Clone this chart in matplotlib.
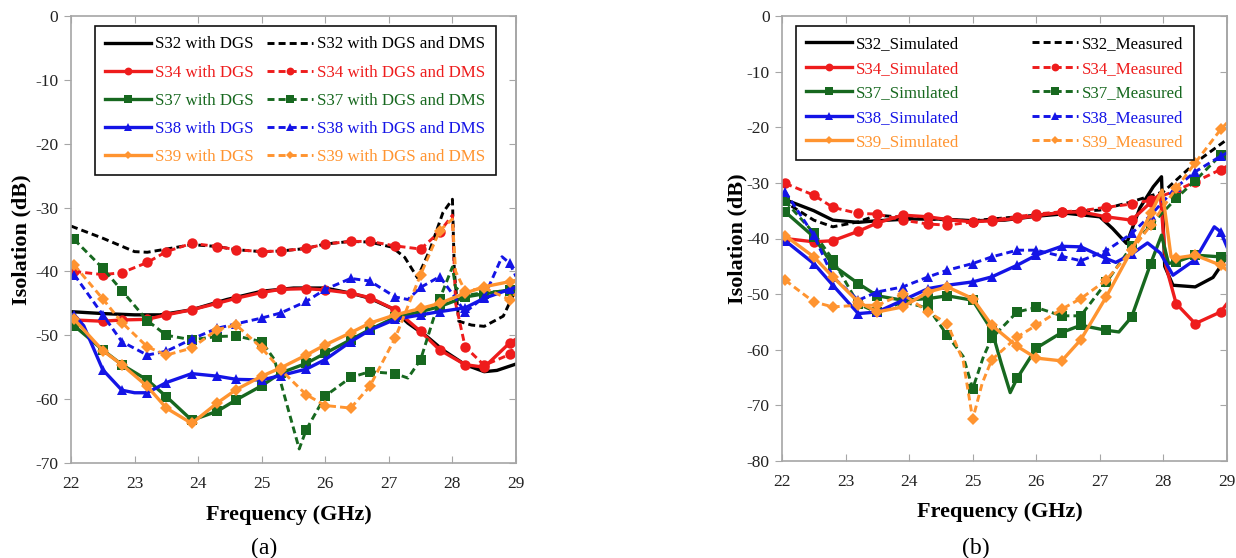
import matplotlib
matplotlib.use("Agg")
import matplotlib.pyplot as plt
from matplotlib.lines import Line2D

plt.rcParams['font.family'] = ['Liberation Serif', 'DejaVu Serif']
plt.rcParams['axes.unicode_minus'] = False

# ---------------- data ----------------
MARK_X = [22.05, 22.5, 22.8, 23.2, 23.5, 23.9, 24.3, 24.6, 25.0, 25.3, 25.7,
          26.0, 26.4, 26.7, 27.1, 27.5, 27.8, 28.2, 28.5, 28.9]

# panel (a)
a_s32_dgs_x = [22.0, 22.5, 23.0, 23.4, 23.9, 24.45, 25.0, 25.5, 26.0, 26.4, 26.7, 27.05, 27.3, 27.6, 27.85, 28.2, 28.5, 28.7, 29.0]
a_s32_dgs_y = [-46.3, -46.6, -46.8, -46.8, -46.0, -44.4, -43.1, -42.6, -42.6, -43.4, -44.2, -45.8, -48.1, -50.2, -52.3, -54.6, -55.7, -55.5, -54.5]

a_s32_dms_x = [22.0, 22.5, 23.0, 23.2, 23.5, 23.9, 24.3, 24.6, 25.0, 25.3, 25.7, 26.0, 26.4, 26.7, 27.05, 27.25, 27.45, 27.65, 27.85, 28.0, 28.03, 28.1, 28.3, 28.5, 28.8, 29.0]
a_s32_dms_y = [-32.9, -34.8, -36.9, -37.0, -36.5, -35.8, -36.1, -36.6, -36.9, -36.8, -36.4, -35.7, -35.3, -35.4, -36.2, -37.8, -41.0, -36.5, -30.8, -28.7, -40.0, -47.8, -48.4, -48.6, -47.0, -42.8]

a_s34_dgs_x = [22.05, 22.5, 22.8, 23.2, 23.5, 23.9, 24.3, 24.6, 25.0, 25.3, 25.7, 26.0, 26.4, 26.7, 27.1, 27.5, 27.8, 28.2, 28.5, 28.9, 29.0]
a_s34_dgs_y = [-47.6, -47.8, -47.6, -47.5, -46.8, -46.0, -45.0, -44.2, -43.3, -42.8, -42.7, -42.9, -43.4, -44.1, -46.0, -49.4, -52.3, -54.6, -55.0, -51.2, -50.6]

a_s34_dms_x = [22.05, 22.5, 22.8, 23.2, 23.5, 23.9, 24.3, 24.6, 25.0, 25.3, 25.7, 26.0, 26.4, 26.7, 27.1, 27.5, 27.8, 28.0, 28.05, 28.2, 28.5, 28.9, 29.0]
a_s34_dms_y = [-40.0, -40.5, -40.2, -38.6, -36.9, -35.6, -36.1, -36.6, -36.9, -36.8, -36.4, -35.7, -35.3, -35.3, -36.0, -36.5, -33.8, -31.2, -45.0, -51.8, -54.7, -53.0, -51.0]

a_s37_dgs_x = [22.05, 22.5, 22.8, 23.2, 23.5, 23.9, 24.3, 24.6, 25.0, 25.3, 25.7, 26.0, 26.4, 26.7, 27.1, 27.5, 27.8, 28.2, 28.5, 28.9, 29.0]
a_s37_dgs_y = [-48.5, -52.3, -54.6, -57.0, -59.6, -63.3, -61.9, -60.1, -57.9, -55.9, -54.4, -52.8, -50.7, -49.1, -47.2, -46.3, -45.5, -44.0, -43.5, -42.9, -42.7]

a_s37_dms_x = [22.05, 22.5, 22.8, 23.2, 23.5, 23.9, 24.3, 24.6, 25.0, 25.2, 25.4, 25.59, 25.7, 26.0, 26.4, 26.7, 27.1, 27.3, 27.5, 27.8, 28.0, 28.05, 28.2, 28.5, 28.9, 29.0]
a_s37_dms_y = [-35.0, -39.5, -43.0, -47.7, -50.0, -50.7, -50.2, -50.1, -51.0, -53.8, -61.0, -67.8, -64.8, -59.5, -56.6, -55.7, -56.0, -56.7, -53.8, -44.3, -39.3, -42.5, -43.8, -43.3, -43.0, -42.8]

a_s38_dgs_x = [22.05, 22.2, 22.5, 22.8, 23.0, 23.2, 23.5, 23.9, 24.3, 24.6, 25.0, 25.3, 25.7, 26.0, 26.4, 26.7, 27.1, 27.5, 27.8, 28.2, 28.5, 28.9, 29.0]
a_s38_dgs_y = [-46.8, -48.5, -55.4, -58.6, -59.0, -59.0, -57.4, -56.0, -56.4, -56.9, -57.0, -56.3, -55.3, -53.8, -51.0, -49.2, -47.5, -46.8, -46.3, -45.7, -44.2, -42.8, -42.5]

a_s38_dms_x = [22.05, 22.5, 22.8, 23.2, 23.5, 23.9, 24.3, 24.6, 25.0, 25.3, 25.7, 26.0, 26.4, 26.7, 27.1, 27.3, 27.5, 27.8, 28.05, 28.2, 28.5, 28.78, 28.9, 29.0]
a_s38_dms_y = [-40.5, -46.8, -51.0, -53.1, -52.5, -50.6, -48.9, -48.2, -47.3, -46.5, -44.7, -42.8, -41.1, -41.5, -44.0, -44.4, -42.5, -40.8, -44.2, -46.4, -44.0, -37.7, -38.7, -40.8]

a_s39_dgs_x = [22.05, 22.5, 22.8, 23.2, 23.5, 23.9, 24.3, 24.6, 25.0, 25.3, 25.7, 26.0, 26.4, 26.7, 27.1, 27.5, 27.8, 28.2, 28.5, 28.9, 29.0]
a_s39_dgs_y = [-47.5, -52.4, -54.6, -58.0, -61.4, -63.8, -60.6, -58.5, -56.4, -55.1, -53.1, -51.5, -49.6, -48.1, -46.8, -45.8, -45.0, -43.4, -42.4, -41.6, -41.4]

a_s39_dms_x = [22.05, 22.5, 22.8, 23.2, 23.5, 23.9, 24.3, 24.6, 25.0, 25.3, 25.7, 26.0, 26.4, 26.7, 27.1, 27.5, 27.8, 28.0, 28.05, 28.2, 28.5, 28.9, 29.0]
a_s39_dms_y = [-39.0, -44.3, -48.0, -51.8, -53.1, -52.0, -49.1, -48.4, -52.0, -55.4, -59.3, -61.0, -61.4, -58.0, -50.4, -40.5, -33.6, -31.8, -40.0, -43.1, -42.6, -44.4, -43.5]

# panel (b)
b_s32_sim_x = [22.0, 22.5, 22.8, 23.2, 23.5, 24.0, 24.5, 25.0, 25.5, 26.0, 26.5, 27.0, 27.2, 27.42, 27.63, 27.84, 27.97, 28.02, 28.15, 28.5, 28.78, 29.0]
b_s32_sim_y = [-32.8, -35.0, -36.7, -37.1, -36.8, -36.5, -36.5, -36.8, -36.7, -36.0, -35.5, -36.1, -38.2, -40.9, -34.5, -30.7, -28.9, -45.0, -48.4, -48.7, -47.0, -43.3]

b_s32_meas_x = [22.0, 22.5, 22.8, 23.2, 23.5, 24.0, 24.5, 25.0, 25.5, 26.0, 26.5, 27.0, 27.5, 28.0, 28.5, 29.0]
b_s32_meas_y = [-33.1, -36.7, -37.9, -37.0, -35.8, -36.3, -36.6, -36.8, -36.3, -35.8, -35.2, -34.9, -33.4, -31.6, -26.4, -22.2]

b_s34_sim_x = [22.05, 22.5, 22.8, 23.2, 23.5, 23.9, 24.3, 24.6, 25.0, 25.3, 25.7, 26.0, 26.4, 26.7, 27.1, 27.5, 27.8, 27.95, 28.04, 28.2, 28.5, 28.9, 29.0]
b_s34_sim_y = [-40.0, -40.6, -40.4, -38.7, -37.2, -35.8, -36.1, -36.6, -37.0, -36.8, -36.4, -35.9, -35.3, -35.2, -36.1, -36.7, -33.5, -32.0, -45.0, -51.7, -55.3, -53.2, -51.7]

b_s34_meas_x = [22.05, 22.5, 22.8, 23.2, 23.5, 23.9, 24.3, 24.6, 25.0, 25.3, 25.7, 26.0, 26.4, 26.7, 27.1, 27.5, 27.8, 28.2, 28.5, 28.9, 29.0]
b_s34_meas_y = [-30.1, -32.2, -34.4, -35.5, -35.6, -36.7, -37.4, -37.6, -37.0, -36.7, -36.1, -35.6, -35.2, -35.0, -34.4, -33.8, -33.1, -31.4, -29.8, -27.6, -27.0]

b_s37_sim_x = [22.05, 22.5, 22.8, 23.2, 23.5, 23.9, 24.3, 24.6, 25.0, 25.3, 25.45, 25.59, 25.7, 26.0, 26.4, 26.7, 27.1, 27.3, 27.5, 27.8, 27.97, 28.08, 28.2, 28.5, 28.9, 29.0]
b_s37_sim_y = [-35.2, -39.7, -44.8, -48.1, -50.3, -51.1, -50.8, -50.3, -51.1, -56.5, -62.5, -67.7, -65.1, -59.7, -56.9, -55.6, -56.5, -56.8, -54.1, -44.5, -39.4, -44.5, -44.2, -43.0, -43.3, -43.5]

b_s37_meas_x = [22.05, 22.5, 22.8, 23.2, 23.5, 23.9, 24.3, 24.6, 24.85, 25.0, 25.17, 25.3, 25.7, 26.0, 26.4, 26.7, 27.1, 27.5, 27.8, 28.2, 28.5, 28.9, 29.0]
b_s37_meas_y = [-33.3, -39.0, -43.8, -51.8, -53.3, -51.4, -52.5, -57.4, -61.2, -67.0, -61.2, -57.9, -53.2, -52.4, -53.9, -53.9, -47.9, -41.4, -37.6, -32.8, -29.6, -25.0, -24.5]

b_s38_sim_x = [22.05, 22.5, 22.8, 23.2, 23.5, 23.9, 24.3, 24.6, 25.0, 25.3, 25.7, 26.0, 26.4, 26.7, 27.1, 27.25, 27.5, 27.75, 27.95, 28.15, 28.5, 28.8, 28.9, 29.0]
b_s38_sim_y = [-40.4, -44.5, -48.4, -53.5, -53.2, -51.1, -49.0, -48.4, -47.8, -46.9, -44.8, -43.0, -41.4, -41.5, -43.6, -44.3, -42.8, -40.8, -42.6, -46.6, -43.8, -37.9, -38.8, -41.5]

b_s38_meas_x = [22.05, 22.5, 22.8, 23.2, 23.5, 23.9, 24.3, 24.6, 25.0, 25.3, 25.7, 26.0, 26.4, 26.7, 27.1, 27.5, 27.8, 28.2, 28.5, 28.9, 29.0]
b_s38_meas_y = [-31.6, -39.4, -46.9, -51.1, -49.6, -48.7, -46.9, -45.7, -44.5, -43.3, -42.1, -42.1, -43.2, -44.0, -42.2, -39.1, -35.8, -30.8, -28.0, -25.2, -24.6]

b_s39_sim_x = [22.05, 22.5, 22.8, 23.2, 23.5, 23.9, 24.3, 24.6, 25.0, 25.3, 25.7, 26.0, 26.4, 26.7, 27.1, 27.5, 27.8, 27.98, 28.12, 28.2, 28.5, 28.9, 29.0]
b_s39_sim_y = [-39.5, -43.3, -46.9, -51.4, -53.2, -52.3, -49.6, -48.7, -50.8, -55.6, -59.4, -61.5, -62.0, -58.2, -50.5, -42.1, -35.5, -31.3, -43.3, -43.5, -43.0, -44.8, -45.7]

b_s39_meas_x = [22.05, 22.5, 22.8, 23.2, 23.5, 23.9, 24.3, 24.6, 24.85, 25.0, 25.15, 25.3, 25.7, 26.0, 26.4, 26.7, 27.1, 27.5, 27.8, 28.2, 28.5, 28.9, 29.0]
b_s39_meas_y = [-47.5, -51.4, -52.3, -52.0, -52.0, -50.0, -53.2, -55.3, -62.0, -72.5, -66.0, -61.8, -57.7, -55.6, -52.7, -50.8, -47.5, -42.1, -37.6, -31.0, -26.4, -20.4, -19.2]

labels_a_solid = ["S32 with DGS", "S34 with DGS", "S37 with DGS", "S38 with DGS", "S39 with DGS"]
labels_a_dash = ["S32 with DGS and DMS", "S34 with DGS and DMS", "S37 with DGS and DMS",
                 "S38 with DGS and DMS", "S39 with DGS and DMS"]
labels_b_solid = ["S32_Simulated", "S34_Simulated", "S37_Simulated", "S38_Simulated", "S39_Simulated"]
labels_b_dash = ["S32_Measured", "S34_Measured", "S37_Measured", "S38_Measured", "S39_Measured"]

x_ticks = [22, 23, 24, 25, 26, 27, 28, 29]
a_y_ticks = [0, -10, -20, -30, -40, -50, -60, -70]
b_y_ticks = [0, -10, -20, -30, -40, -50, -60, -70, -80]

# ---------------- style ----------------
COLORS = ['#000000', '#EE1C1C', '#17681F', '#1414E6', '#FF9430']
MARKERS = [None, 'o', 's', '^', 'D']
MSIZE = [0, 7.5, 7.5, 7.5, 6.0]
GRAY = '#A6A6A6'
DASH = (2.4, 1.4)
MARK_SET = set(round(v, 2) for v in MARK_X)

fig = plt.figure(figsize=(12.36, 5.58), dpi=100)
ax_a = fig.add_axes([71/1236, 1-463/558, 445/1236, 447/558])
ax_b = fig.add_axes([782/1236, 1-461/558, 445/1236, 445/558])


def draw(ax, x, y, k, dashed):
    m = MARKERS[k]
    idx = [i for i, v in enumerate(x) if round(v, 2) in MARK_SET] if m else None
    kw = dict(color=COLORS[k], lw=2.4 if not dashed else 2.1, marker=m,
              markevery=idx, markersize=MSIZE[k], markeredgewidth=0)
    if dashed:
        kw['ls'] = (0, DASH)
    ax.plot(x, y, **kw)


series_a = [
    (a_s32_dgs_x, a_s32_dgs_y, a_s32_dms_x, a_s32_dms_y),
    (a_s34_dgs_x, a_s34_dgs_y, a_s34_dms_x, a_s34_dms_y),
    (a_s37_dgs_x, a_s37_dgs_y, a_s37_dms_x, a_s37_dms_y),
    (a_s38_dgs_x, a_s38_dgs_y, a_s38_dms_x, a_s38_dms_y),
    (a_s39_dgs_x, a_s39_dgs_y, a_s39_dms_x, a_s39_dms_y),
]
series_b = [
    (b_s32_sim_x, b_s32_sim_y, b_s32_meas_x, b_s32_meas_y),
    (b_s34_sim_x, b_s34_sim_y, b_s34_meas_x, b_s34_meas_y),
    (b_s37_sim_x, b_s37_sim_y, b_s37_meas_x, b_s37_meas_y),
    (b_s38_sim_x, b_s38_sim_y, b_s38_meas_x, b_s38_meas_y),
    (b_s39_sim_x, b_s39_sim_y, b_s39_meas_x, b_s39_meas_y),
]


def style_axes(ax, yticks, ylim):
    ax.set_xlim(22, 29)
    ax.set_ylim(*ylim)
    ax.set_xticks(x_ticks)
    ax.set_yticks(yticks)
    ax.set_xticklabels([str(t) for t in x_ticks])
    ax.set_yticklabels([str(t) for t in yticks])
    for s in ax.spines.values():
        s.set_color(GRAY)
        s.set_linewidth(1.2)
    ax.tick_params(axis='x', direction='in', top=True, length=5, color=GRAY,
                   labelsize=12.5, pad=9, labelcolor='#222222')
    ax.tick_params(axis='y', direction='out', length=5, color=GRAY,
                   labelsize=12.5, pad=4, labelcolor='#222222')
    sec = ax.secondary_yaxis('right')
    sec.set_yticks(yticks)
    sec.tick_params(direction='in', length=5, color=GRAY, labelright=False)
    sec.spines['right'].set_color(GRAY)
    sec.spines['right'].set_linewidth(1.2)


def add_legend(ax, solid_labels, dash_labels, anchor, colspace, labspace):
    handles, labs, cols = [], [], []
    for k in range(5):
        handles.append(Line2D([], [], color=COLORS[k], lw=2.4, marker=MARKERS[k],
                              markersize=MSIZE[k]*0.75, markeredgewidth=0))
        labs.append(solid_labels[k]); cols.append(COLORS[k])
    for k in range(5):
        handles.append(Line2D([], [], color=COLORS[k], lw=2.1, ls=(0, DASH),
                              marker=MARKERS[k], markersize=MSIZE[k]*0.75,
                              markeredgewidth=0))
        labs.append(dash_labels[k]); cols.append(COLORS[k])
    leg = ax.legend(handles, labs, ncol=2, loc='upper left', bbox_to_anchor=anchor,
                    borderaxespad=0, fancybox=False, framealpha=1,
                    edgecolor='#111111', fontsize=12.2, handlelength=2.7,
                    handletextpad=0.25, columnspacing=colspace,
                    labelspacing=labspace, borderpad=0.6)
    leg.get_frame().set_linewidth(1.2)
    for t, c in zip(leg.get_texts(), cols):
        t.set_color(c)


for ax, series, yt, yl in [(ax_a, series_a, a_y_ticks, (-70, 0)),
                           (ax_b, series_b, b_y_ticks, (-80, 0))]:
    for k, (xs, ys, xd, yd) in enumerate(series):
        draw(ax, xd, yd, k, True)
        draw(ax, xs, ys, k, False)
    style_axes(ax, yt, yl)

add_legend(ax_a, labels_a_solid, labels_a_dash, (0.054, 0.977), 0.8, 0.72)
add_legend(ax_b, labels_b_solid, labels_b_dash, (0.031, 0.977), 4.3, 0.5)

for ax, ylx, xly in [(ax_a, -0.112, -0.116), (ax_b, -0.101, -0.115)]:
    ax.set_ylabel('Isolation (dB)', fontsize=16, fontweight='bold', va='center')
    ax.yaxis.set_label_coords(ylx, 0.5)
    ax.set_xlabel('Frequency (GHz)', fontsize=16, fontweight='bold', va='center')
    ax.xaxis.set_label_coords(0.49, xly)

fig.text(264/1236, 1-548/558, '(a)', ha='center', va='center', fontsize=17)
fig.text(976/1236, 1-548/558, '(b)', ha='center', va='center', fontsize=17)

fig.savefig('out.png', dpi=100)
